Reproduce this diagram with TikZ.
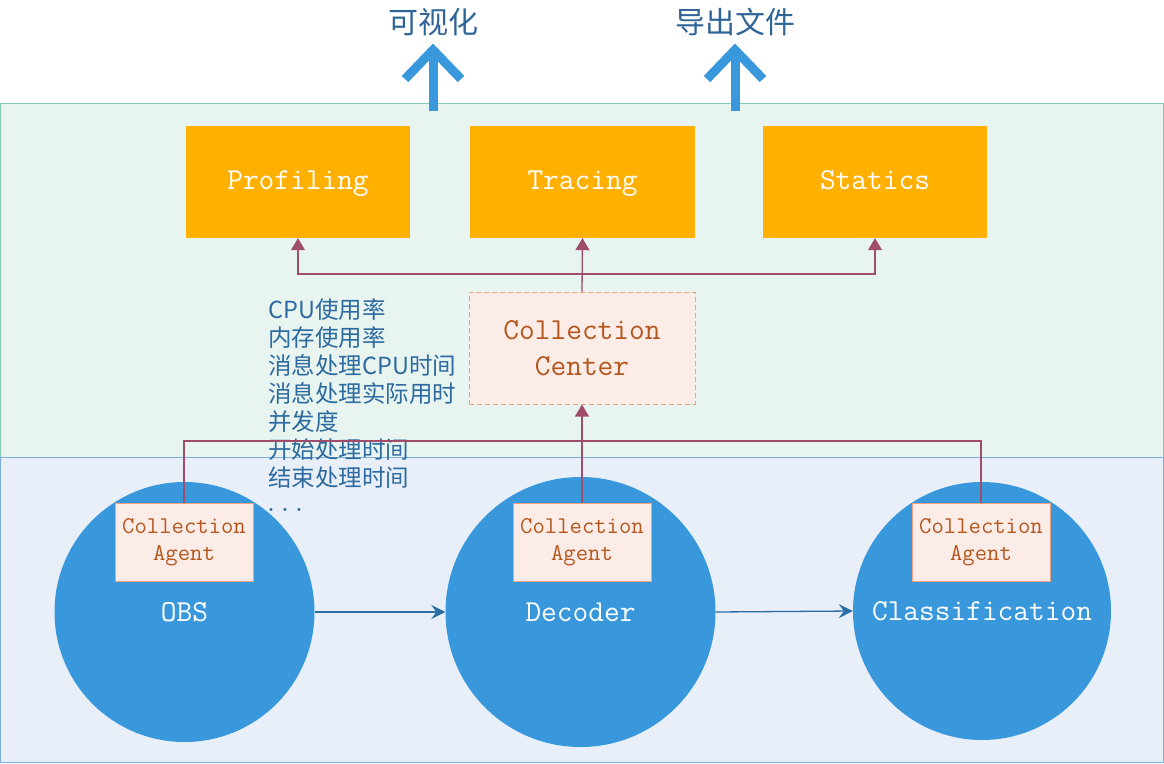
\documentclass[tikz,border=0pt]{standalone}
\usepackage{fontspec}
\newfontfamily\cjk{Noto Sans CJK SC}
\usetikzlibrary{arrows.meta,calc}
\definecolor{gband}{HTML}{E7F4EF}
\definecolor{gline}{HTML}{82CBB0}
\definecolor{bband}{HTML}{E8EFF9}
\definecolor{bline}{HTML}{7DAEDD}
\definecolor{orng}{HTML}{FFB000}
\definecolor{cblue}{HTML}{3898DB}
\definecolor{pinkf}{HTML}{FCECE8}
\definecolor{pinkl}{HTML}{F0A07E}
\definecolor{brn}{HTML}{B5561C}
\definecolor{mar}{HTML}{A04D6C}
\definecolor{txtb}{HTML}{2D6A9F}
\definecolor{arrb}{HTML}{2A6EA6}
\definecolor{ttlc}{HTML}{2F6596}
\begin{document}
\begin{tikzpicture}[x=1pt,y=-1pt,
  modbox/.style={fill=orng, draw=none, minimum width=224pt, minimum height=112pt, inner sep=0pt, text height=21pt, text depth=6pt, text=white, font=\ttfamily\fontsize{30.5}{36}\selectfont},
  procc/.style={circle, fill=cblue, draw=none, inner sep=0pt, text=white, font=\ttfamily\fontsize{30.5}{36}\selectfont},
  agentbox/.style={fill=pinkf, draw=pinkl, line width=1pt, minimum width=138pt, minimum height=78pt, inner sep=0pt, align=center, text=brn, font=\ttfamily\fontsize{24}{27}\selectfont},
  ccbox/.style={fill=pinkf, draw=pinkl, dash pattern=on 5pt off 3pt, line width=1pt, minimum width=226pt, minimum height=112pt, inner sep=0pt, align=center, text=brn, font=\ttfamily\fontsize{30.5}{36}\selectfont},
  link/.style={draw=mar, line width=1.3pt},
  linktip/.style={link, -{Triangle[width=14pt,length=12pt]}},
  flow/.style={draw=arrb, line width=1.3pt, -{Stealth[width=14pt,length=14pt,inset=5pt]}},
  bigarrow/.style={draw=cblue, line width=9pt, line cap=butt, line join=miter},
  listtxt/.style={inner sep=0pt, anchor=base west, text=txtb, font=\cjk\fontsize{23.5}{28}\selectfont},
  ttl/.style={inner sep=0pt, text=ttlc, font=\cjk\fontsize{30}{34}\selectfont}
]
\useasboundingbox (0,0) rectangle (1164,763);
% bands
\fill[gband] (0,103) rectangle (1164,457);
\draw[gline, line width=1pt] (0.5,103.5) rectangle (1163.5,457);
\fill[bband] (0,457) rectangle (1164,762.5);
\draw[bline, line width=1pt] (0.5,457.5) rectangle (1163.5,762);

% titles and big arrows
\node[ttl] (t1) at (433,22) {可视化};
\node[ttl] (t2) at (735,22) {导出文件};
\draw[bigarrow] (433,111) -- (433,50);
\draw[bigarrow] (405,79) -- (433,50) -- (461,79);
\draw[bigarrow] (735,111) -- (735,50);
\draw[bigarrow] (707,79) -- (735,50) -- (763,79);

% modules
\node[modbox] (prof) at (298,182) {Profiling};
\node[modbox, minimum width=225pt] (trac) at (582.5,182) {Tracing};
\node[modbox] (stat) at (875,182) {Statics};

% collection center
\node[ccbox] (cc) at (582,348) {Collection\\Center};

% metric list
\foreach \t [count=\i] in {CPU使用率,内存使用率,消息处理CPU时间,消息处理实际用时,并发度,开始处理时间,结束处理时间}
  \node[listtxt] (l\i) at (268,{318+28*(\i-1)}) {\t};
\node[listtxt, font=\ttfamily\fontsize{27}{28}\selectfont] (l8) at (264,511) {...};

% circles
\node[procc, minimum size=260pt] (obs) at (184.5,612) {OBS};
\node[procc, minimum size=270pt] (dec) at (580.5,612) {Decoder};
\node[procc, minimum size=258pt] (cls) at (982,611) {Classification};

% agents
\node[agentbox] (obsA) at (184,542) {Collection\\Agent};
\node[agentbox] (decA) at (582,542) {Collection\\Agent};
\node[agentbox] (clsA) at (981,542) {Collection\\Agent};

% connectors
\coordinate (bus) at (0,441);
\coordinate (hub) at (0,274);
\draw[link] (obsA.north) |- (bus -| clsA.north) -- (clsA.north);
\draw[linktip] (decA.north) -- (cc.south);
\draw[linktip] (cc.north) -- (trac.south);
\draw[linktip] (cc.north |- hub) -| (prof.south);
\draw[linktip] (cc.north |- hub) -| (stat.south);
\draw[flow] (obs.east) -- (dec.west);
\draw[flow] (dec.east) -- (cls.west);
\end{tikzpicture}
\end{document}
